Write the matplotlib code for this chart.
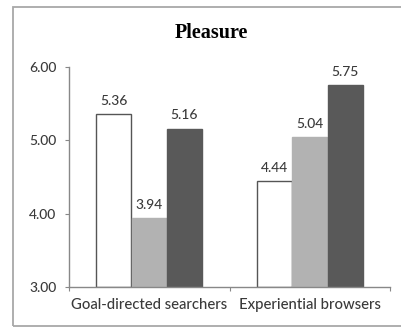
import matplotlib.pyplot as plt
import matplotlib.patches as patches
import numpy as np

# ------------------------------------------
# Data
# ------------------------------------------

groups = ["Goal-directed searchers", "Experiential browsers"]
series_1 = [5.36, 4.44]
series_2 = [3.94, 5.04]
series_3 = [5.16, 5.75]
yticks = [3.00, 4.00, 5.00, 6.00]

colors = ["white", "#b2b2b2", "#595959"]
edges = ["#555555", "#b2b2b2", "#595959"]

# ------------------------------------------
# Figure
# ------------------------------------------

fig = plt.figure(figsize=(4.01, 3.28), dpi=100)
ax = fig.add_axes([69/401, 1 - 287/328, 321/401, 220/328])

x = np.arange(len(groups))
w = 0.218
offs = [-0.22, 0.0, 0.22]
txt = dict(family="Lato", fontsize=10, color="#3a3a3a", fontweight="medium")

for vals, off, c, ec in zip([series_1, series_2, series_3], offs, colors, edges):
    bars = ax.bar(x + off, [v - 3 for v in vals], w, bottom=3, color=c,
                  edgecolor=ec, linewidth=1.0, zorder=2)
    for b, v in zip(bars, vals):
        ax.text(b.get_x() + b.get_width()/2, v + 0.1, "%.2f" % v,
                ha="center", va="bottom", **txt)

ax.set_xlim(-0.5, 1.5)
ax.set_ylim(3, 6)
ax.set_yticks(yticks)
ax.set_yticklabels(["%.2f" % t for t in yticks], **txt)
ax.set_xticks([-0.5, 0.5, 1.5], minor=False)
ax.set_xticklabels([])
ax.set_xticks(x, minor=True)
ax.set_xticklabels(groups, minor=True, family="Lato", fontsize=10.7,
                   color="#3a3a3a", fontweight="medium")
ax.tick_params(axis="x", which="minor", length=0, pad=8)
ax.tick_params(axis="x", which="major", length=3, color="#888888")
ax.tick_params(axis="y", length=3, color="#888888", pad=6)

for s in ["top", "right"]:
    ax.spines[s].set_visible(False)
for s in ["left", "bottom"]:
    ax.spines[s].set_color("#888888")
    ax.spines[s].set_linewidth(1.0)

fig.text(211/401, 1 - 33/328, "Pleasure", ha="center", va="center",
         family="Liberation Serif", fontweight="bold", fontsize=14.5)

# outer chart frame (cut off on the right)
frame = patches.Rectangle((13/401, 1 - 326/328), 500/401, 319/328,
                          transform=fig.transFigure, fill=False,
                          edgecolor="#a8a8a8", linewidth=1.3)
fig.patches.append(frame)

fig.savefig("out.png", dpi=100)
